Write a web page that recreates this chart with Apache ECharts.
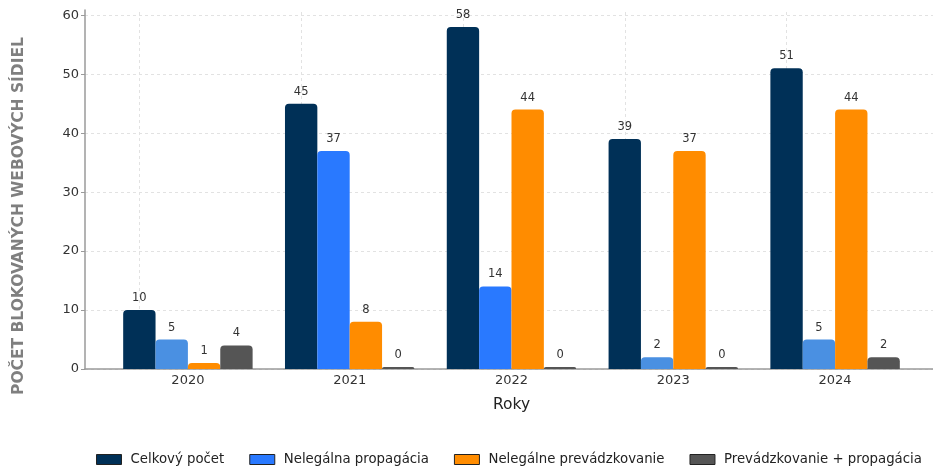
<!DOCTYPE html>
<html><head><meta charset="utf-8">
<script src="https://cdn.jsdelivr.net/npm/echarts@6/dist/echarts.min.js"></script>
<style>html,body{margin:0;padding:0;background:#fff}#c{width:933px;height:467px}</style>
</head><body><div id="c"></div>
<script>
const years = ['2020', '2021', '2022', '2023', '2024'];
const seriesNames = ['Celkový počet', 'Nelegálna propagácia', 'Nelegálne prevádzkovanie', 'Prevádzkovanie + propagácia'];
const celkovyPocet = [10, 45, 58, 39, 51];
const nelegalnaPropagacia = [5, 37, 14, 2, 5];
const nelegalnePrevadzkovanie = [1, 8, 44, 37, 44];
const prevadzkovaniePropagacia = [4, 0, 0, 0, 2];
const yMax = 60.9;
const yInterval = 10;
const yAxisTitle = 'POČET BLOKOVANÝCH WEBOVÝCH SÍDIEL';
const xAxisTitle = 'Roky';

const C_NAVY = '#003057', C_BLUE = '#2979ff', C_LBLUE = '#4a90e2', C_ORANGE = '#ff8c00', C_GRAY = '#555555';
// per-year shade of the propagation bars (lighter in 2020, 2023, 2024)
const propShade = [C_LBLUE, C_BLUE, C_BLUE, C_LBLUE, C_LBLUE];

const FONT = 'DejaVu Sans';
const chart = echarts.init(document.getElementById('c'), null, {renderer: 'canvas'});

const labelCfg = {show: true, position: 'top', distance: 6, fontSize: 11.5, color: '#333', fontFamily: FONT};
function barSeries(name, data, color, extra) {
  return Object.assign({
    name: name, type: 'bar', xAxisIndex: 1, yAxisIndex: 1,
    data: data, barGap: '0%', barCategoryGap: '20%', barMinHeight: 2,
    itemStyle: {color: color, borderRadius: [4, 4, 0, 0]},
    label: labelCfg, z: 2
  }, extra || {});
}

const option = {
  animation: false,
  backgroundColor: '#fff',
  textStyle: {fontFamily: FONT},
  grid: [
    {left: 85, right: 0, top: 10, bottom: 98},
    {left: 107, right: 17, top: 10, bottom: 98}
  ],
  xAxis: [
    {gridIndex: 0, type: 'value', min: 0, max: 1, axisLine: {show: true, lineStyle: {color: '#9a9a9a', width: 1.5}},
     axisTick: {show: false}, axisLabel: {show: false}, splitLine: {show: false}},
    {gridIndex: 1, type: 'category', data: years, axisLine: {show: false}, axisTick: {show: false},
     axisLabel: {fontSize: 13, color: '#333', margin: 5, fontFamily: FONT},
     name: xAxisTitle, nameLocation: 'middle', nameGap: 28,
     nameTextStyle: {fontSize: 15.5, color: '#222', fontFamily: FONT}}
  ],
  yAxis: [
    {gridIndex: 0, type: 'value', min: 0, max: yMax, interval: yInterval,
     axisLine: {show: true, lineStyle: {color: '#9a9a9a', width: 1.5}},
     axisTick: {show: true, length: 4, lineStyle: {color: '#9a9a9a'}},
     axisLabel: {fontSize: 13, color: '#333', margin: 6, showMaxLabel: false, fontFamily: FONT},
     splitLine: {show: true, showMaxLine: false, lineStyle: {type: [3, 3], color: '#e2e2e2', width: 1}}},
    {gridIndex: 1, type: 'value', min: 0, max: yMax, show: false, splitLine: {show: false}}
  ],
  legend: {
    top: 453, left: 96, padding: 0, itemWidth: 25, itemHeight: 10, itemGap: 25,
    icon: 'rect',
    itemStyle: {borderColor: '#222', borderWidth: 1},
    textStyle: {fontSize: 13.3, color: '#222', fontFamily: FONT, padding: [0, 0, 0, 4]},
    data: seriesNames
  },
  graphic: [{
    type: 'text', x: 19, y: 216, rotation: Math.PI / 2,
    style: {text: yAxisTitle, fill: '#7f7f7f', font: 'bold 15.5px "DejaVu Sans"', align: 'center', verticalAlign: 'middle'}
  }],
  series: [
    barSeries(seriesNames[0], celkovyPocet, C_NAVY, {
      markLine: {silent: true, symbol: 'none', z: 1, label: {show: false},
        lineStyle: {type: [3, 3], color: '#e2e2e2', width: 1},
        emphasis: {disabled: true},
        data: years.map(y => ({xAxis: y}))}
    }),
    barSeries(seriesNames[1], nelegalnaPropagacia.map((v, i) => ({value: v, itemStyle: {color: propShade[i]}})), C_BLUE),
    barSeries(seriesNames[2], nelegalnePrevadzkovanie, C_ORANGE),
    barSeries(seriesNames[3], prevadzkovaniePropagacia, C_GRAY)
  ]
};
chart.setOption(option);
</script></body></html>
